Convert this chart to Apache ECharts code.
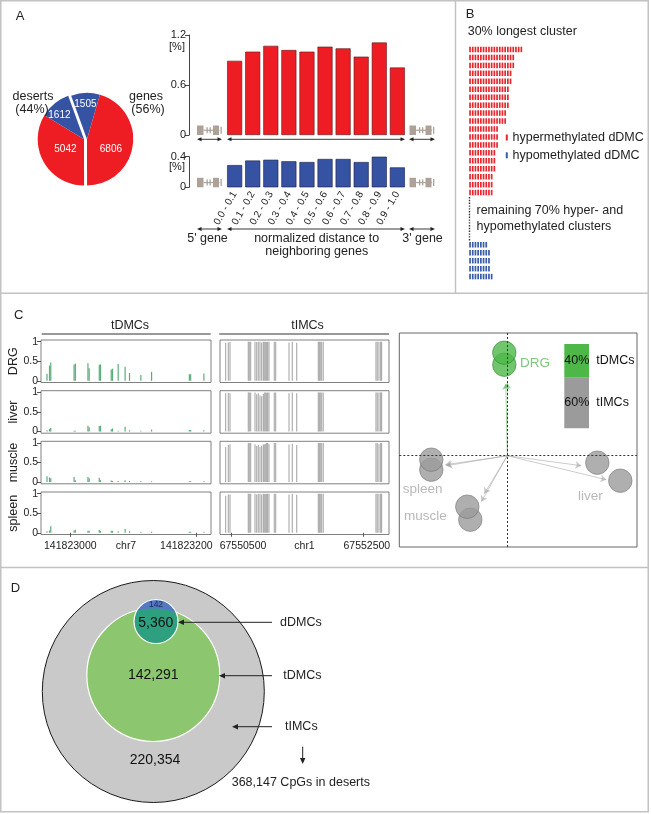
<!DOCTYPE html>
<html><head><meta charset="utf-8">
<script src="https://cdn.jsdelivr.net/npm/echarts@6/dist/echarts.min.js"></script>
<style>html,body{margin:0;padding:0;background:#fff}#c{width:651px;height:814px}</style>
</head><body><div id="c"></div>
<script>
// ================= DATA =================
// Panel A pie: dDMC counts (hypo = blue, hyper = red)
const pieGenes = [1505, 6806];      // genes: hypo, hyper
const pieDeserts = [5042, 1612];    // deserts: hyper, hypo
// Panel A bars
const distBins = ['0.0 - 0.1','0.1 - 0.2','0.2 - 0.3','0.3 - 0.4','0.4 - 0.5','0.5 - 0.6','0.6 - 0.7','0.7 - 0.8','0.8 - 0.9','0.9 - 1.0'];
const hyperPct = [0.89, 1.00, 1.07, 1.02, 1.00, 1.06, 1.04, 0.94, 1.11, 0.81];
const hypoPct  = [0.29, 0.35, 0.36, 0.34, 0.33, 0.37, 0.37, 0.33, 0.40, 0.26];
// Panel B cluster lengths (number of dDMCs per cluster)
const hyperClusterLen = [20,17,17,16,16,15,15,15,14,14,11,11,11,10,10,10,9,9,9];
const hypoClusterLen = [7,8,8,8,9];
// Panel C methylation tracks
const tissues = ['DRG','liver','muscle','spleen'];
const tdmcPos = [141822963,141822967,141822969,141823006,141823008,141823028,141823030,141823046,141823048,141823065,141823067,141823076,141823087,141823094,141823112,141823129,141823189,141823191,141823212];
const tdmcDRG    = [0.18,0.39,0.47,0.42,0.44,0.45,0.32,0.41,0.42,0.29,0.31,0.43,0.36,0.20,0.15,0.23,0.17,0.17,0.19];
const tdmcLiver  = [0.03,0.07,0.09,0.02,0.02,0.15,0.11,0.14,0.15,0.06,0.08,0.02,0.12,0.03,0.02,0.05,0.04,0.04,0.03];
const tdmcMuscle = [0.15,0.12,0.10,0.13,0.05,0.13,0.10,0.11,0.05,0.04,0.03,0.03,0.05,0.03,0.02,0.02,0.02,0.02,0.02];
const tdmcSpleen = [0.04,0.06,0.17,0.06,0.08,0.05,0.05,0.07,0.05,0.05,0.05,0.04,0.10,0.04,0.03,0.03,0.03,0.03,0.03];
const timcPos = [67550419,67550460,67550485,67550762,67550777,67550797,67550863,67550888,67550913,67550938,67550963,67550989,67551004,67551024,67551039,67551054,67551074,67551155,67551175,67551377,67551427,67551493,67551820,67551835,67551850,67551870,67551895,67552691,67552711,67552736,67552761,67552776];
const timcDRG    = [0.97,0.98,0.99,1,1,1,1,0.99,1,1,0.98,1,1,1,0.99,1,1,1,1,0.98,1,0.97,1,1,1,1,1,1,1,1,1,1];
const timcLiver  = [0.98,0.99,0.98,1,1,1,1,0.95,0.98,0.92,0.90,0.96,1,1,0.99,1,1,1,1,0.98,1,0.98,1,1,1,1,1,1,1,1,1,1];
const timcMuscle = [0.90,0.95,0.97,1,1,1,0.97,0.92,0.95,0.90,0.93,0.96,0.97,0.98,1,1,0.97,1,1,0.96,0.98,0.95,1,1,1,1,1,1,1,0.97,1,1];
const timcSpleen = [0.95,0.98,0.98,1,1,1,1,0.98,1,1,0.98,1,1,0.99,1,1,1,1,1,0.98,1,0.97,1,1,1,1,1,1,1,1,1,1];
const tdmcTicks = [141823000, 141823200];
const timcTicks = [67550500, 67552500];
// Panel C PCA biplot
const pcaTissue = ['DRG','spleen','muscle','liver'];
const pcaRepLow = [[-0.03,0.91],[-0.76,-0.14],[-0.37,-0.64],[1.13,-0.25]];
const pcaRepUp  = [[-0.03,1.03],[-0.76,-0.04],[-0.40,-0.51],[0.90,-0.07]];
const loadA = [[-0.015,0.72],[-0.62,-0.09],[-0.23,-0.38],[0.74,-0.10]];
const loadB = [[0.0,0.73],[-0.61,-0.10],[-0.26,-0.46],[0.99,-0.24]];
const shareNames = ['tDMCs','tIMCs'];
const sharePct = [40, 60];
// Panel D nested sets
const vennCounts = [142, 5360, 142291, 220354]; // dDMC only, dDMC∩tDMC, tDMC only, tIMC
const vennNames = ['dDMCs','tDMCs','tIMCs'];
const desertTotal = 368147;

// ================= BUILD =================
const FONT = '"Liberation Sans", Arial, Helvetica, sans-serif';
const RED = '#EE1D23', BLUE = '#3653A3', GREEN = '#4DB848', GRAY = '#9B9B9B';
const grids = [], xAxes = [], yAxes = [], series = [], G = [];
const sum = a => a.reduce((s, v) => s + v, 0);
const fmt = v => v.toLocaleString('en-US');

function T(x, y, text, o) {
  o = o || {};
  return {type:'text', x, y, silent:true, z:100, style:{text, fontSize:o.fs||12.5, fontFamily:FONT, fill:o.color||'#222', align:o.align||'left', verticalAlign:o.va||'middle', lineHeight:o.lh}};
}
function L(x1,y1,x2,y2,o){ o=o||{}; return {type:'line', silent:true, z:100, shape:{x1,y1,x2,y2}, style:{stroke:o.color||'#222', lineWidth:o.w||1, lineDash:o.dash||null}}; }
function head(x,y,dir,s){
  const w = s*0.45; let pts;
  if (dir==='l') pts=[[x,y],[x+s,y-w],[x+s,y+w]];
  else if (dir==='r') pts=[[x,y],[x-s,y-w],[x-s,y+w]];
  else pts=[[x,y],[x-w,y-s],[x+w,y-s]];
  return {type:'polygon', silent:true, z:100, shape:{points:pts}, style:{fill:'#222'}};
}
function dbl(x1,x2,y){ return [L(x1+2,y,x2-2,y,{w:0.9}), head(x1,y,'l',4.5), head(x2,y,'r',4.5)]; }
function gene(x0, yb){
  const c = '#ADA198', h = 9.5, ym = yb - h/2;
  const r = (x,y,w,hh) => ({type:'rect', silent:true, z:100, shape:{x,y,width:w,height:hh}, style:{fill:c}});
  return [r(x0,yb-h,6.5,h), r(x0+6.5,ym-0.6,16,1.2), r(x0+9.5,ym-3,1.3,6), r(x0+12.5,ym-3,1.3,6), r(x0+16,yb-h,6,h), r(x0+23.5,ym-3.5,1.3,7)];
}

// ---------- Panel A : pie ----------
const total = sum(pieGenes) + sum(pieDeserts);
const genesSpan = 360 * sum(pieGenes) / total;
const pieLabel = {show:true, position:'inside', formatter:'{c}', color:'#fff', fontSize:10, fontFamily:FONT};
const genesLabelShift = [[-0.7,-9],[-2,5.9]];
const desertsLabelShift = [[4.2,-3.1],[-8,-3.3]];
series.push({type:'pie', center:[87,139.2], radius:[0,46.3], startAngle:110, endAngle:110-genesSpan, clockwise:true, silent:true,
  label:pieLabel, labelLine:{show:false},
  labelLayout: p => ({dx:genesLabelShift[p.dataIndex][0], dy:genesLabelShift[p.dataIndex][1]}),
  data:[{value:pieGenes[0], itemStyle:{color:BLUE}}, {value:pieGenes[1], itemStyle:{color:RED}}]});
series.push({type:'pie', center:[84,139.2], radius:[0,46.3], startAngle:110-genesSpan, endAngle:110-360, clockwise:true, silent:true,
  label:pieLabel, labelLine:{show:false},
  labelLayout: p => ({dx:desertsLabelShift[p.dataIndex][0], dy:desertsLabelShift[p.dataIndex][1]}),
  data:[{value:pieDeserts[0], itemStyle:{color:RED}}, {value:pieDeserts[1], itemStyle:{color:BLUE}}]});
const desPct = Math.round(100*sum(pieDeserts)/total), genPct = Math.round(100*sum(pieGenes)/total);
G.push(T(33,97,'deserts',{align:'center'}), T(32,110,'('+desPct+'%)',{align:'center'}));
G.push(T(146,97,'genes',{align:'center'}), T(148,110,'('+genPct+'%)',{align:'center'}));

// ---------- Panel A : bars ----------
function yAx(gi, max, interval){
  return {type:'value', gridIndex:gi, min:0, max, interval, offset:36.6,
    axisLine:{show:true, lineStyle:{color:'#444', width:1}}, axisTick:{show:true, length:4, lineStyle:{color:'#444'}},
    axisLabel:{fontSize:11, color:'#222', margin:3, fontFamily:FONT}, splitLine:{show:false}};
}
grids.push({left:225.6, top:35, width:180.8, height:100});
xAxes.push({type:'category', gridIndex:0, data:distBins, axisLine:{show:false}, axisTick:{show:false}, axisLabel:{show:false}});
yAxes.push(yAx(0, 1.2, 0.6));
series.push({type:'bar', xAxisIndex:0, yAxisIndex:0, data:hyperPct, barWidth:15, silent:true, itemStyle:{color:RED, borderColor:'#5a1a1a', borderWidth:0.6}});
grids.push({left:225.6, top:156.7, width:180.8, height:30.6});
xAxes.push({type:'category', gridIndex:1, data:distBins, axisLine:{show:false}, axisTick:{show:false},
  axisLabel:{show:true, interval:0, rotate:60, fontSize:10, color:'#222', margin:5, fontFamily:FONT}});
yAxes.push(yAx(1, 0.4, 0.4));
series.push({type:'bar', xAxisIndex:1, yAxisIndex:1, data:hypoPct, barWidth:15, silent:true, itemStyle:{color:BLUE, borderColor:'#1a1a3a', borderWidth:0.6}});
G.push(T(177,47,'[%]',{fs:11,align:'center'}), T(177,167,'[%]',{fs:11,align:'center'}));
[135, 187.3].forEach(yb => { G.push(...gene(197, yb), ...gene(409.5, yb)); });
[139.3, 229].forEach(y => { G.push(...dbl(197,222,y), ...dbl(227,405,y), ...dbl(409,435,y)); });
G.push(T(207.5,239,"5' gene",{align:'center'}), T(316.7,239,'normalized distance to',{align:'center'}),
       T(316.7,251.7,'neighboring genes',{align:'center'}), T(422.5,239,"3' gene",{align:'center'}));

// ---------- Panel B ----------
function clusterGrid(gi, top, rows, color){
  grids.push({left:468.7, top, width:67.5, height:rows.length*7.95});
  xAxes.push({type:'value', gridIndex:gi, min:0, max:25, show:false});
  yAxes.push({type:'category', gridIndex:gi, inverse:true, data:rows.map((_, i) => 'c'+(i+1)), show:false});
  series.push({type:'pictorialBar', xAxisIndex:gi, yAxisIndex:gi, symbol:'rect', symbolSize:[1.7,5.5], symbolPosition:'start',
    symbolMargin:'0.5!', silent:true, itemStyle:{color},
    data:rows.map(v => ({value:v, symbolRepeat:v, symbolBoundingData:v}))});
}
clusterGrid(2, 45.5, hyperClusterLen, '#E8262D');
clusterGrid(3, 240.8, hypoClusterLen, '#3A5BAA');
G.push(T(467.7,31.7,'30% longest cluster'));
G.push({type:'rect', silent:true, z:100, shape:{x:505.8,y:134.5,width:2,height:6}, style:{fill:'#E8262D'}}, T(512.5,137.5,'hypermethylated dDMC'));
G.push({type:'rect', silent:true, z:100, shape:{x:505.8,y:152.3,width:2,height:6}, style:{fill:'#3A5BAA'}}, T(512.5,155.3,'hypomethylated dDMC'));
G.push(L(469.5,197,469.5,241,{w:1.4,dash:[1.4,1.4],color:'#333'}));
G.push(T(476.5,210.7,'remaining 70% hyper- and'), T(476.5,226.5,'hypomethylated clusters'));

// ---------- Panel C : tracks ----------
const cTops = [340, 390.7, 441.3, 492], cH = 42.5;
const tickRich = {fontSize:10.5, color:'#222', fontFamily:FONT};
const cols = [
  {left:41, width:170, pos:tdmcPos, vals:[tdmcDRG,tdmcLiver,tdmcMuscle,tdmcSpleen], color:'#3E9F64', opacity:0.85, min:141822953.5, max:141823223.3, ticks:tdmcTicks, name:'chr7', pads:[[0,0,0,0],[0,20,0,0]]},
  {left:220, width:169, pos:timcPos, vals:[timcDRG,timcLiver,timcMuscle,timcSpleen], color:'#9C9C9C', opacity:0.8, min:67550334, max:67552888, ticks:timcTicks, name:'chr1', pads:[[0,0,0,24],[0,0,0,7]]}
];
let gi = 4;
tissues.forEach((tis, r) => {
  cols.forEach((c, ci) => {
    grids.push({left:c.left, top:cTops[r], width:c.width, height:cH, show:true, borderColor:'#808080', borderWidth:1});
    const bottom = r === tissues.length - 1;
    xAxes.push({type:'value', gridIndex:gi, min:c.min, max:c.max, splitLine:{show:false}, axisLine:{show:false},
      axisTick:{show:bottom, length:4, customValues:c.ticks, lineStyle:{color:'#555'}},
      axisLabel:{show:bottom, customValues:c.ticks, formatter:v => (v === c.ticks[0] ? '{t0|' : '{t1|') + v + '}', margin:6,
        rich:{t0:Object.assign({padding:c.pads[0]}, tickRich), t1:Object.assign({padding:c.pads[1]}, tickRich)}},
      name:bottom ? c.name : '', nameLocation:'middle', nameGap:6, nameMoveOverlap:false,
      nameTextStyle:{fontSize:10.5, color:'#222', fontFamily:FONT, verticalAlign:'top'}});
    yAxes.push({type:'value', gridIndex:gi, min:-0.043, max:1.043, splitLine:{show:false}, axisLine:{show:false},
      axisTick:{show:ci === 0, length:4, customValues:[0,0.5,1], lineStyle:{color:'#555'}},
      axisLabel:{show:ci === 0, customValues:[0,0.5,1], fontSize:10.5, color:'#222', margin:3, fontFamily:FONT},
      name:ci === 0 ? tis : '', nameLocation:'middle', nameRotate:90, nameGap:21, nameMoveOverlap:false,
      nameTextStyle:{fontSize:12.5, color:'#222', fontFamily:FONT}});
    series.push({type:'bar', xAxisIndex:gi, yAxisIndex:gi, barWidth:1.2, silent:true, itemStyle:{color:c.color, opacity:c.opacity},
      data:c.pos.map((p, i) => [p, c.vals[r][i]])});
    gi++;
  });
});
G.push(T(130,325.5,'tDMCs',{align:'center',fs:12.5}), L(41.7,334,210.7,334,{color:'#333'}));
G.push(T(307.5,325.5,'tIMCs',{align:'center',fs:12.5}), L(219.3,334,389,334,{color:'#333'}));

// ---------- Panel C : PCA ----------
grids.push({left:399.3, top:333, width:237.7, height:214, show:true, borderColor:'#666', borderWidth:1});
xAxes.push({type:'value', gridIndex:12, min:-1.08, max:1.297, show:false});
yAxes.push({type:'value', gridIndex:12, min:-0.913, max:1.227, show:false});
const pcaColor = i => (pcaTissue[i] === 'DRG' ? GREEN : GRAY);
series.push({type:'scatter', xAxisIndex:12, yAxisIndex:12, silent:true, data:[],
  markLine:{silent:true, symbol:'none', label:{show:false}, lineStyle:{color:'#333', type:[2,2], width:1}, data:[{xAxis:0},{yAxis:0}]}});
[loadA, loadB].forEach((ld, k) => {
  series.push({type:'lines', coordinateSystem:'cartesian2d', xAxisIndex:12, yAxisIndex:12, silent:true, z:3,
    symbol:['none','arrow'], symbolSize:6,
    data:ld.map((p, i) => ({coords:[[0,0], p], lineStyle:{color:pcaTissue[i]==='DRG' ? '#4CAF50' : '#9a9a9a', width:1, type:(k===1 && pcaTissue[i]==='DRG') ? [2,1.5] : 'solid'}}))});
});
[pcaRepLow, pcaRepUp].forEach(reps => {
  series.push({type:'scatter', xAxisIndex:12, yAxisIndex:12, silent:true, z:4, symbolSize:23.5,
    data:reps.map((p, i) => ({value:p, itemStyle:{color:pcaColor(i), borderColor:pcaTissue[i]==='DRG' ? '#2f7f2f' : '#6f6f6f', borderWidth:0.7}}))});
});
const pcaLabelPos = [[0.127,0.927],[-1.046,-0.333],[-1.033,-0.61],[0.707,-0.41]];
series.push({type:'scatter', xAxisIndex:12, yAxisIndex:12, silent:true, z:5, symbolSize:0,
  data:pcaTissue.map((t, i) => ({name:t, value:pcaLabelPos[i],
    label:{show:true, position:'right', distance:0, formatter:'{b}', fontSize:13.5, fontFamily:FONT, color:t==='DRG' ? '#5CB85C' : '#A6A6A6'}}))});
// inset stacked share bar
grids.push({left:564.3, top:344, width:24.7, height:84.3});
xAxes.push({type:'category', gridIndex:13, data:['share'], show:false});
yAxes.push({type:'value', gridIndex:13, min:0, max:100, show:false});
[1, 0].forEach(k => {
  series.push({type:'bar', xAxisIndex:13, yAxisIndex:13, stack:'s', barWidth:'100%', silent:true, name:shareNames[k],
    data:[sharePct[k]], itemStyle:{color:k===0 ? GREEN : GRAY},
    label:{show:true, position:'insideLeft', distance:0, formatter:p => p.value + '%  ' + p.seriesName, fontSize:12.5, color:'#111', fontFamily:FONT}});
});

// ---------- Panel D : nested sets ----------
grids.push({left:0, top:571, width:649, height:241});
xAxes.push({type:'value', gridIndex:14, min:0, max:649, show:false});
yAxes.push({type:'value', gridIndex:14, min:571, max:812, inverse:true, show:false});
series.push({type:'custom', coordinateSystem:'cartesian2d', xAxisIndex:14, yAxisIndex:14, silent:true, clip:false,
  data:[[300,700]],
  renderItem: function(params, api){
    const P = (x, y) => api.coord([x, y]);
    const R = r => api.size([r, 0])[0];
    const big = P(153.3,691.5), rb = R(111);
    const gc = P(153.3,675), rg = R(66.5);
    const sc = P(156,621.5), rs = R(22);
    const cap = [], N = 720;
    for (let i = 0; i <= N; i++) { const t = -1.5*Math.PI + i*2*Math.PI/N; const px = sc[0]+rs*Math.cos(t), py = sc[1]+rs*Math.sin(t); if (Math.hypot(px-gc[0], py-gc[1]) > rg) cap.push([px,py]); }
    for (let i = 0; i <= N; i++) { const t = 0.5*Math.PI - i*2*Math.PI/N; const px = gc[0]+rg*Math.cos(t), py = gc[1]+rg*Math.sin(t); if (Math.hypot(px-sc[0], py-sc[1]) < rs) cap.push([px,py]); }
    const txt = (p, s, fs, col) => ({type:'text', x:p[0], y:p[1], style:{text:s, fontSize:fs, fontFamily:FONT, fill:col||'#111', align:'center', verticalAlign:'middle'}});
    return {type:'group', children:[
      {type:'circle', shape:{cx:big[0], cy:big[1], r:rb}, style:{fill:'#C9C9C9', stroke:'#1a1a1a', lineWidth:1}},
      {type:'circle', shape:{cx:gc[0], cy:gc[1], r:rg}, style:{fill:'#8CC66E', stroke:'#fff', lineWidth:1.2}},
      {type:'circle', shape:{cx:sc[0], cy:sc[1], r:rs}, style:{fill:'#2FA07F'}},
      {type:'polygon', shape:{points:cap}, style:{fill:'#5479C2'}},
      {type:'circle', shape:{cx:sc[0], cy:sc[1], r:rs}, style:{fill:null, stroke:'#fff', lineWidth:1.2}},
      txt(P(156,605), fmt(vennCounts[0]), 8.5, '#1d2b55'),
      txt(P(155.8,623.3), fmt(vennCounts[1]), 14),
      txt(P(153.3,675.3), fmt(vennCounts[2]), 14),
      txt(P(155,760), fmt(vennCounts[3]), 14)
    ]};
  }});
G.push(L(272,622.3,183,622.3), head(178,622.3,'l',6), T(280,622.3,vennNames[0]));
G.push(L(272,675.7,224,675.7), head(219,675.7,'l',6), T(283.3,675.7,vennNames[1]));
G.push(L(272,726.7,237,726.7), head(232,726.7,'l',6), T(285,726.7,vennNames[2]));
G.push(L(302.7,746.7,302.7,759), head(302.7,764,'d',6), T(231.7,782.7,fmt(desertTotal) + ' CpGs in deserts'));

// ---------- panel frames & letters ----------
G.push({type:'rect', silent:true, z:0, shape:{x:0.75,y:0.75,width:647.5,height:811}, style:{fill:null, stroke:'#C2C2C2', lineWidth:1.5}});
G.push(L(0,293.3,649,293.3,{color:'#C2C2C2',w:1.5}), L(0,567.5,649,567.5,{color:'#C2C2C2',w:1.5}), L(455.5,0,455.5,293.3,{color:'#C2C2C2',w:1.5}));
G.push(T(20,16,'A',{fs:13,align:'center'}), T(470,14,'B',{fs:13,align:'center'}), T(18.7,315.5,'C',{fs:13,align:'center'}), T(15.5,588,'D',{fs:13,align:'center'}));

const chart = echarts.init(document.getElementById('c'));
chart.setOption({animation:false, backgroundColor:'#fff', textStyle:{fontFamily:FONT},
  grid:grids, xAxis:xAxes, yAxis:yAxes, series, graphic:{elements:G}});
</script></body></html>
